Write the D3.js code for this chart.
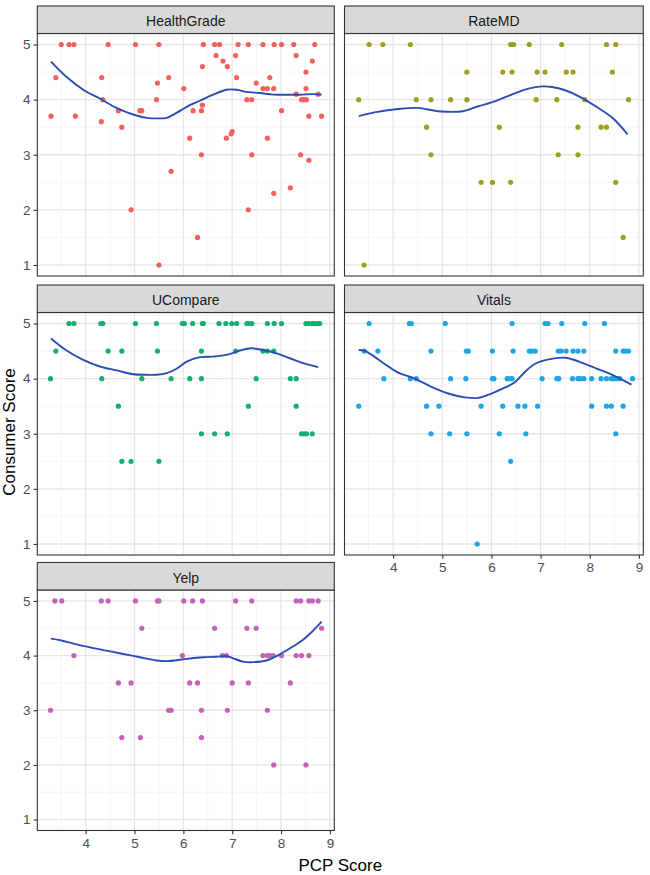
<!DOCTYPE html>
<html>
<head>
<meta charset="utf-8">
<script src="https://cdn.jsdelivr.net/npm/d3@7"></script>
<style>
  html, body { margin: 0; padding: 0; background: #fff; }
  svg { display: block; font-family: "Liberation Sans", Arial, sans-serif; }
</style>
</head>
<body>
<svg id="chart" width="650" height="875"></svg>
<script>
// ---------------- DATA ----------------
const panelNames = ["HealthGrade", "RateMD", "UCompare", "Vitals", "Yelp"];
const panelColors = ["#F4605F", "#A0A020", "#12B06E", "#1DA5E5", "#C462B8"];
const xTicks = [4, 5, 6, 7, 8, 9];
const yTicks = [1, 2, 3, 4, 5];
const xTitle = "PCP Score";
const yTitle = "Consumer Score";

const healthGradePoints = [
  [3.29,3.7],[3.39,4.4],[3.50,5],[3.66,5],[3.76,5],[3.79,3.7],[4.33,4.4],[4.32,3.6],[4.35,4.0],
  [4.46,5],[4.67,3.8],[4.74,3.5],[4.93,2.0],[5.02,5],[5.11,3.8],[5.15,3.8],[5.45,4.0],[5.47,4.3],
  [5.50,5],[5.50,1.0],[5.70,4.4],[5.75,2.7],[6.01,4.2],[6.13,3.3],[6.20,3.8],[6.29,1.5],[6.37,3.0],
  [6.37,3.8],[6.39,3.9],[6.39,4.6],[6.41,5],[6.64,5],[6.67,4.8],[6.74,5],[6.81,4.7],[6.90,4.6],
  [6.88,3.3],[6.98,3.38],[7.00,3.42],[7.07,4.8],[7.09,4.4],[7.12,5],[7.30,4.0],[7.33,5],[7.33,2.0],
  [7.40,4.0],[7.40,3.0],[7.49,4.3],[7.63,5],[7.63,4.2],[7.72,4.2],[7.72,3.3],[7.77,4.4],[7.85,4.2],
  [7.85,2.3],[7.86,5],[8.01,5],[8.01,3.8],[8.19,2.4],[8.26,5],[8.31,4.8],[8.31,4.1],[8.40,3.0],
  [8.42,4.0],[8.47,4.0],[8.51,4.5],[8.51,4.2],[8.52,4.0],[8.57,3.7],[8.57,2.9],[8.64,4.7],[8.69,5],
  [8.76,4.1],[8.83,3.7]
];
const healthGradeSmooth = [
  [3.29,4.69],[3.61,4.41],[3.95,4.18],[4.29,4.02],[4.63,3.85],[4.97,3.73],[5.25,3.67],[5.50,3.66],
  [5.66,3.67],[5.86,3.76],[6.07,3.87],[6.34,3.98],[6.61,4.09],[6.88,4.18],[7.09,4.18],[7.29,4.14],
  [7.57,4.12],[7.84,4.09],[8.11,4.09],[8.38,4.09],[8.66,4.10],[8.83,4.09]
];

const rateMDPoints = [
  [3.30,4.0],[3.41,1.0],[3.51,5],[3.79,5],[4.35,5],[4.47,4.0],[4.68,3.5],[4.77,4.0],[4.77,3.0],
  [5.17,4.0],[5.50,4.5],[5.50,4.0],[5.79,2.5],[6.02,2.5],[6.16,3.5],[6.23,4.5],[6.39,2.5],[6.39,5],
  [6.45,5],[6.42,4.5],[6.77,5],[6.91,4.0],[6.93,4.5],[7.09,4.5],[7.33,4.0],[7.36,3.0],[7.43,5],
  [7.52,4.5],[7.66,4.5],[7.76,3.5],[7.76,3.0],[7.90,4.0],[8.23,3.5],[8.34,3.5],[8.34,5],[8.46,4.5],
  [8.53,5],[8.53,2.5],[8.68,1.5],[8.79,4.0]
];
const rateMDSmooth = [
  [3.30,3.70],[3.62,3.77],[4.10,3.83],[4.50,3.85],[4.91,3.79],[5.42,3.79],[5.73,3.88],[6.07,3.97],
  [6.41,4.09],[6.75,4.20],[7.03,4.24],[7.23,4.23],[7.50,4.17],[7.78,4.06],[8.12,3.88],[8.46,3.67],
  [8.77,3.37]
];

const uComparePoints = [
  [3.28,4.0],[3.39,4.5],[3.66,5],[3.76,5],[4.31,5],[4.35,5],[4.33,4.0],[4.46,4.5],[4.67,3.5],
  [4.74,4.5],[4.74,2.5],[4.93,2.5],[5.02,5],[5.15,4.0],[5.45,5],[5.47,4.5],[5.50,2.5],[5.75,4.0],
  [5.98,5],[6.02,5],[6.13,4.0],[6.19,5],[6.37,4.5],[6.37,4.0],[6.37,3.0],[6.39,5],[6.41,5],
  [6.64,3.0],[6.73,5],[6.87,5],[6.90,3.0],[6.99,5],[7.07,4.5],[7.09,5],[7.30,5],[7.33,5],[7.40,5],
  [7.33,3.5],[7.49,4.0],[7.63,4.5],[7.72,5],[7.72,4.5],[7.85,4.5],[7.86,5],[8.01,5],[8.19,4.0],
  [8.31,4.0],[8.31,3.5],[8.42,3.0],[8.47,3.0],[8.52,3.0],[8.51,5],[8.57,5],[8.64,5],[8.64,3.0],
  [8.69,5],[8.76,5],[8.79,5]
];
const uCompareSmooth = [
  [3.29,4.73],[3.61,4.51],[3.95,4.34],[4.29,4.22],[4.63,4.15],[4.97,4.08],[5.25,4.07],[5.45,4.07],
  [5.66,4.10],[5.86,4.18],[6.07,4.31],[6.34,4.39],[6.61,4.40],[6.88,4.43],[7.16,4.51],[7.39,4.55],
  [7.63,4.52],[7.91,4.46],[8.18,4.37],[8.45,4.28],[8.76,4.21]
];

const vitalsPoints = [
  [3.30,3.5],[3.41,4.5],[3.51,5],[3.69,4.5],[3.81,4.0],[4.33,5],[4.37,5],[4.35,4.0],[4.47,4.0],
  [4.68,3.5],[4.77,4.5],[4.77,3.0],[4.93,3.5],[5.06,5],[5.15,3.0],[5.17,4.0],[5.48,4.0],[5.49,4.5],
  [5.53,4.5],[5.50,3.0],[5.71,1.0],[5.79,3.5],[6.02,4.5],[6.02,4.0],[6.05,4.0],[6.16,3.0],[6.23,3.5],
  [6.32,4.0],[6.37,4.0],[6.42,4.0],[6.39,2.5],[6.42,5],[6.44,4.5],[6.54,3.5],[6.68,3.5],[6.70,3.0],
  [6.77,4.5],[6.82,4.5],[6.89,4.5],[6.94,3.5],[7.03,4.0],[7.09,5],[7.15,5],[7.33,4.0],[7.37,4.0],
  [7.36,4.5],[7.42,4.5],[7.43,5],[7.52,4.5],[7.66,4.5],[7.76,4.5],[7.88,4.5],[7.65,4.0],[7.76,4.0],
  [7.81,4.0],[7.88,4.0],[7.90,5],[8.04,3.5],[8.04,4.0],[8.23,4.0],[8.30,5],[8.34,3.5],[8.34,4.0],
  [8.44,3.5],[8.44,4.0],[8.49,4.0],[8.56,4.0],[8.61,4.0],[8.53,4.5],[8.53,3.0],[8.68,3.5],[8.68,4.5],
  [8.73,4.5],[8.79,4.5],[8.87,4.0]
];
const vitalsSmooth = [
  [3.30,4.52],[3.41,4.51],[3.55,4.44],[3.82,4.27],[4.10,4.11],[4.44,4.00],[4.78,3.85],[5.12,3.73],
  [5.46,3.66],[5.73,3.65],[6.00,3.73],[6.28,3.84],[6.47,3.93],[6.69,4.13],[6.89,4.27],[7.16,4.35],
  [7.50,4.38],[7.78,4.31],[8.12,4.19],[8.46,4.07],[8.85,3.89]
];

const yelpPoints = [
  [3.28,3.0],[3.37,5],[3.51,5],[3.76,4.0],[4.32,5],[4.46,5],[4.67,3.5],[4.74,2.5],[4.93,3.5],
  [5.02,5],[5.12,2.5],[5.15,4.5],[5.47,5],[5.50,5],[5.70,3.0],[5.75,3.0],[5.98,4.0],[6.01,5],
  [6.13,3.5],[6.19,5],[6.29,3.5],[6.37,3.0],[6.37,2.5],[6.39,5],[6.64,4.5],[6.80,4.0],[6.88,4.0],
  [6.90,3.0],[7.00,3.5],[7.07,5],[7.30,4.5],[7.33,3.5],[7.40,5],[7.49,4.5],[7.63,4.0],[7.72,4.0],
  [7.77,4.0],[7.84,4.0],[7.72,3.0],[7.85,2.0],[8.01,4.0],[8.19,3.5],[8.31,5],[8.40,5],[8.31,4.0],
  [8.42,4.0],[8.57,4.0],[8.51,2.0],[8.57,5],[8.64,5],[8.76,5],[8.83,4.5]
];
const yelpSmooth = [
  [3.29,4.31],[3.48,4.28],[3.75,4.22],[4.09,4.15],[4.43,4.09],[4.77,4.03],[5.11,3.97],[5.45,3.91],
  [5.72,3.90],[6.07,3.94],[6.41,3.97],[6.68,3.98],[6.88,3.99],[7.02,3.95],[7.22,3.89],[7.43,3.88],
  [7.70,3.91],[7.97,4.02],[8.25,4.17],[8.45,4.29],[8.66,4.46],[8.83,4.62]
];

const panelPoints = [healthGradePoints, rateMDPoints, uComparePoints, vitalsPoints, yelpPoints];
const panelSmooth = [healthGradeSmooth, rateMDSmooth, uCompareSmooth, vitalsSmooth, yelpSmooth];

// ---------------- LAYOUT ----------------
const cols = [{x0: 37.3, x1: 334.3}, {x0: 344.5, x1: 643.3}];
const rows = [
  {strip: 6, top: 33.5, bottom: 276},
  {strip: 285, top: 312.5, bottom: 555},
  {strip: 562.5, top: 590, bottom: 830.5}
];
const xDomain = [3.01, 9.09];
const yDomain = [0.8, 5.2];
const xMinor = [3.5, 4.5, 5.5, 6.5, 7.5, 8.5];
const yMinor = [1.5, 2.5, 3.5, 4.5];

const svg = d3.select("#chart");

panelNames.forEach((name, i) => {
  const c = cols[i % 2], r = rows[Math.floor(i / 2)];
  const x = d3.scaleLinear().domain(xDomain).range([c.x0, c.x1]);
  const y = d3.scaleLinear().domain(yDomain).range([r.bottom, r.top]);
  const g = svg.append("g");

  g.append("rect").attr("x", c.x0).attr("y", r.top)
    .attr("width", c.x1 - c.x0).attr("height", r.bottom - r.top).attr("fill", "#fff");

  g.selectAll(".xminor").data(xMinor).enter().append("line")
    .attr("x1", d => x(d)).attr("x2", d => x(d)).attr("y1", r.top).attr("y2", r.bottom)
    .attr("stroke", "#F2F2F2").attr("stroke-width", 0.8);
  g.selectAll(".yminor").data(yMinor).enter().append("line")
    .attr("y1", d => y(d)).attr("y2", d => y(d)).attr("x1", c.x0).attr("x2", c.x1)
    .attr("stroke", "#F2F2F2").attr("stroke-width", 0.8);
  g.selectAll(".xmajor").data(xTicks).enter().append("line")
    .attr("x1", d => x(d)).attr("x2", d => x(d)).attr("y1", r.top).attr("y2", r.bottom)
    .attr("stroke", "#E6E6E6").attr("stroke-width", 1.3);
  g.selectAll(".ymajor").data(yTicks).enter().append("line")
    .attr("y1", d => y(d)).attr("y2", d => y(d)).attr("x1", c.x0).attr("x2", c.x1)
    .attr("stroke", "#E6E6E6").attr("stroke-width", 1.3);

  g.selectAll("circle").data(panelPoints[i]).enter().append("circle")
    .attr("cx", d => x(d[0])).attr("cy", d => y(d[1])).attr("r", 2.6)
    .attr("fill", panelColors[i]);

  const line = d3.line().x(d => x(d[0])).y(d => y(d[1])).curve(d3.curveCatmullRom.alpha(0.5));
  g.append("path").datum(panelSmooth[i]).attr("d", line)
    .attr("fill", "none").attr("stroke", "#2B4DB3").attr("stroke-width", 1.9);

  g.append("rect").attr("x", c.x0).attr("y", r.top)
    .attr("width", c.x1 - c.x0).attr("height", r.bottom - r.top)
    .attr("fill", "none").attr("stroke", "#333333").attr("stroke-width", 1.1);

  g.append("rect").attr("x", c.x0).attr("y", r.strip)
    .attr("width", c.x1 - c.x0).attr("height", r.top - r.strip)
    .attr("fill", "#D9D9D9").attr("stroke", "#333333").attr("stroke-width", 1.1);
  g.append("text").attr("x", (c.x0 + c.x1) / 2).attr("y", r.strip + 20)
    .attr("text-anchor", "middle").attr("font-size", 14).attr("fill", "#1A1A1A").text(name);

  if (i % 2 === 0) {
    const ya = d3.axisLeft(y).tickValues(yTicks).tickSize(3.7).tickPadding(3).tickFormat(d3.format("d"));
    const ag = g.append("g").attr("transform", `translate(${c.x0},0)`).call(ya);
    ag.select(".domain").remove();
    ag.selectAll(".tick line").attr("stroke", "#333333").attr("stroke-width", 1.1);
    ag.selectAll(".tick text").attr("font-size", 13.5).attr("fill", "#4D4D4D")
      .attr("font-family", "Liberation Sans, Arial, sans-serif");
  }
  if (i >= 3) {
    const xa = d3.axisBottom(x).tickValues(xTicks).tickSize(3.7).tickPadding(4).tickFormat(d3.format("d"));
    const ag = g.append("g").attr("transform", `translate(0,${r.bottom})`).call(xa);
    ag.select(".domain").remove();
    ag.selectAll(".tick line").attr("stroke", "#333333").attr("stroke-width", 1.1);
    ag.selectAll(".tick text").attr("font-size", 13.5).attr("fill", "#4D4D4D")
      .attr("font-family", "Liberation Sans, Arial, sans-serif");
  }
});

svg.append("text").attr("x", (cols[0].x0 + cols[1].x1) / 2).attr("y", 871)
  .attr("text-anchor", "middle").attr("font-size", 17).attr("fill", "#000").text(xTitle);
svg.append("text").attr("transform", `translate(15,${(rows[0].top + rows[2].bottom) / 2}) rotate(-90)`)
  .attr("text-anchor", "middle").attr("font-size", 17).attr("fill", "#000").text(yTitle);
</script>
</body>
</html>
